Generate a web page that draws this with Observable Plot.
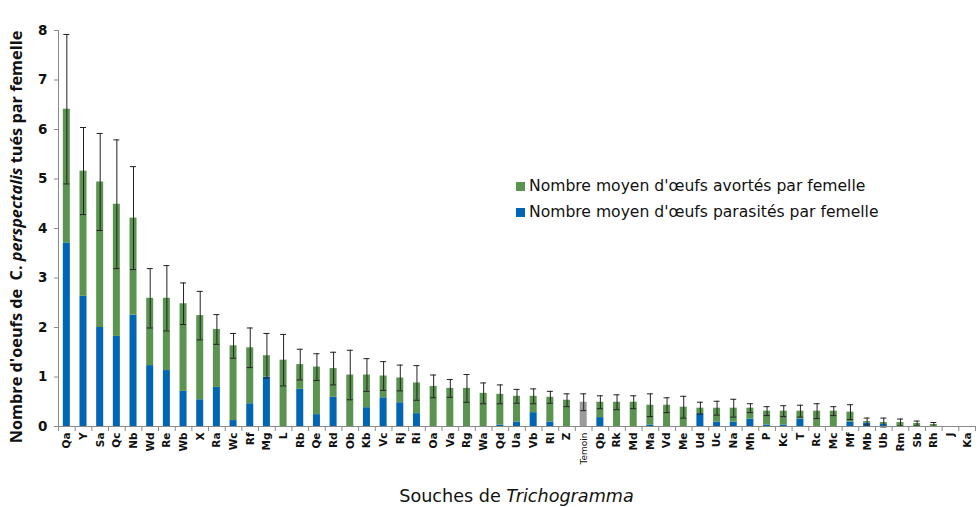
<!DOCTYPE html>
<html>
<head>
<meta charset="utf-8">
<script src="https://cdn.jsdelivr.net/npm/d3@7"></script>
<script src="https://cdn.jsdelivr.net/npm/@observablehq/plot@0.6"></script>
<style>
  html, body { margin: 0; padding: 0; background: #fff; }
  #wrap { position: relative; width: 979px; height: 507px; font-family: "DejaVu Sans", sans-serif; }
  .legend { position: absolute; left: 516px; top: 173px; font-size: 15.6px; color: #111; line-height: 26px; }
  .legend .sw { display: inline-block; width: 9px; height: 9px; margin-right: 4px; vertical-align: 0px; }
</style>
</head>
<body>
<div id="wrap"></div>
<script>
const strains = ["Qa","Y","Sa","Qc","Nb","Wd","Re","Wb","X","Ra","Wc","Rf","Mg","L","Rb","Qe","Rd","Ob","Kb","Vc","Rj","Ri","Oa","Va","Rg","Wa","Qd","Ua","Vb","Rl","Z","Temoin","Qb","Rk","Md","Ma","Vd","Me","Ud","Uc","Na","Mh","P","Kc","T","Rc","Mc","Mf","Mb","Ub","Rm","Sb","Rh","J","Ka"];
const parasites = [3.71,2.63,2.00,1.82,2.25,1.23,1.13,0.71,0.54,0.79,0.12,0.46,1.00,0,0.75,0.24,0.59,0,0.38,0.58,0.48,0.26,0,0,0,0,0.03,0.09,0.28,0.09,0,0,0.18,0,0,0.03,0,0,0.26,0.09,0.09,0.15,0.03,0.03,0.15,0,0,0.09,0.07,0.04,0,0,0,0,0];
const avortes = [2.70,2.53,2.94,2.67,1.96,1.36,1.46,1.77,1.70,1.17,1.51,1.13,0.43,1.34,0.50,0.96,0.58,1.04,0.66,0.44,0.50,0.62,0.81,0.77,0.77,0.67,0.62,0.52,0.33,0.50,0.53,0.49,0.31,0.49,0.49,0.40,0.43,0.39,0.11,0.28,0.28,0.22,0.28,0.28,0.16,0.31,0.31,0.20,0.03,0.04,0.08,0.06,0.04,0,0];
const erreurs = [1.51,0.88,0.98,1.30,1.04,0.60,0.66,0.42,0.49,0.30,0.25,0.40,0.45,0.52,0.31,0.27,0.33,0.50,0.33,0.29,0.26,0.35,0.23,0.18,0.28,0.21,0.19,0.14,0.15,0.12,0.13,0.17,0.13,0.15,0.13,0.23,0.15,0.22,0.12,0.14,0.18,0.09,0.09,0.11,0.12,0.15,0.09,0.15,0.07,0.09,0.07,0.05,0.04,0,0];
const yTicks = [0,1,2,3,4,5,6,7,8];
const series = ["parasités", "avortés", "témoin"];
const colors = ["#0066b3", "#5b9451", "#9b9b9b"];
const legendLabels = ["Nombre moyen d'œufs avortés par femelle", "Nombre moyen d'œufs parasités par femelle"];

const rows = [];
strains.forEach((s, i) => {
  rows.push({strain: s, serie: "parasités", value: parasites[i]});
  rows.push({strain: s, serie: s === "Temoin" ? "témoin" : "avortés", value: avortes[i]});
});
const errs = strains.map((s, i) => ({strain: s, total: parasites[i] + avortes[i], err: erreurs[i]}))
  .filter(d => d.err > 0);

const W = 979, H = 507, mL = 58, mR = 4, mT = 30, mB = 81;
const step = (W - mL - mR) / strains.length;
const bw = step * (1 - 0.58);
const capInset = (bw - 6) / 2;

const chart = Plot.plot({
  width: W, height: H,
  marginLeft: mL, marginRight: mR, marginTop: mT, marginBottom: mB,
  style: {fontFamily: "DejaVu Sans, sans-serif", background: "#fff"},
  x: {domain: strains, paddingInner: 0.58, paddingOuter: 0.29, label: null},
  y: {domain: [0, 8], label: null},
  color: {domain: series, range: colors},
  marks: [
    Plot.barY(rows, {x: "strain", y: "value", fill: "serie", z: "serie"}),
    Plot.ruleX(errs, {x: "strain", y1: d => d.total - d.err, y2: d => d.total + d.err, stroke: "#222", strokeWidth: 1}),
    Plot.tickY(errs, {x: "strain", y: d => d.total + d.err, stroke: "#222", insetLeft: capInset, insetRight: capInset}),
    Plot.tickY(errs, {x: "strain", y: d => d.total - d.err, stroke: "#222", insetLeft: capInset, insetRight: capInset}),
    Plot.ruleY([0], {stroke: "#8a8a8a"}),
    Plot.frame({anchor: "left", stroke: "#8a8a8a"}),
    Plot.axisY({ticks: yTicks, tickSize: 4, tickPadding: 7, fontSize: 13.5, fontWeight: "bold", label: null, stroke: "#8a8a8a", color: "#111"}),
    Plot.axisX({tickSize: 5, text: null, dx: -step / 2, stroke: "#8a8a8a", label: null}),
    Plot.axisX({ticks: [strains[strains.length - 1]], tickSize: 5, text: null, dx: step / 2, stroke: "#8a8a8a", label: null}),
    Plot.axisX({tickSize: 0, tickPadding: 6, tickRotate: -90, fontSize: 10.5, fontWeight: "bold", label: null, color: "#111"})
  ]
});

const wrap = document.getElementById("wrap");
wrap.appendChild(chart);

const svg = d3.select(chart);
// shrink "Temoin" tick label
svg.selectAll("text").filter(function() { return this.textContent === "Temoin"; })
  .attr("font-size", 9).attr("font-weight", "normal");

// Y axis title with italic species name
const yt = svg.append("text")
  .attr("transform", `translate(22,${(mT + H - mB) / 2 + 9}) rotate(-90)`)
  .attr("text-anchor", "middle")
  .attr("font-family", "Open Sans, sans-serif")
  .attr("font-weight", "bold")
  .attr("font-size", 16.3)
  .attr("fill", "#111");
yt.append("tspan").text("Nombre d'oeufs de  C. ");
yt.append("tspan").attr("font-style", "italic").text("perspectalis");
yt.append("tspan").text(" tués par femelle");

// X axis title
const xt = svg.append("text")
  .attr("x", (mL + W - mR) / 2)
  .attr("y", 502)
  .attr("text-anchor", "middle")
  .attr("font-family", "DejaVu Sans, sans-serif")
  .attr("font-size", 17.6)
  .attr("fill", "#111");
xt.append("tspan").text("Souches de ");
xt.append("tspan").attr("font-style", "italic").text("Trichogramma");

// Legend (HTML)
const leg = document.createElement("div");
leg.className = "legend";
const legColors = [colors[1], colors[0]];
leg.innerHTML = legendLabels.map((t, i) =>
  `<div><span class="sw" style="background:${legColors[i]}"></span>${t}</div>`).join("");
wrap.appendChild(leg);
</script>
</body>
</html>
